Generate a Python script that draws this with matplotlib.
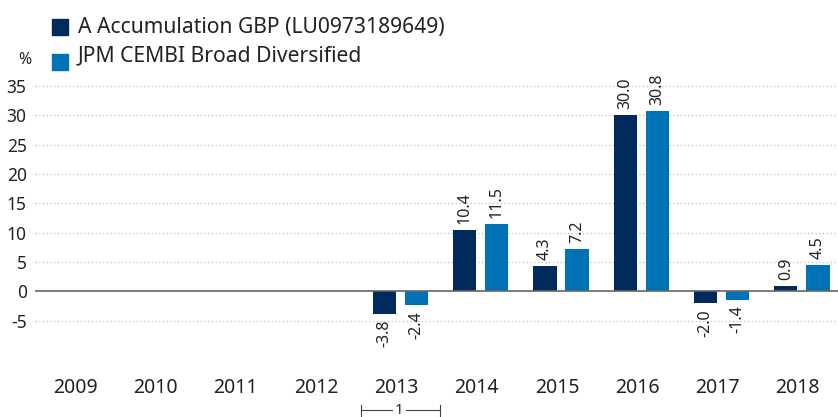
import numpy as np
import matplotlib.pyplot as plt

plt.rcParams['font.family'] = ['Noto Sans', 'DejaVu Sans']

years = ['2009', '2010', '2011', '2012', '2013', '2014', '2015', '2016', '2017', '2018']
fund = [None, None, None, None, -3.8, 10.4, 4.3, 30.0, -2.0, 0.9]
index = [None, None, None, None, -2.4, 11.5, 7.2, 30.8, -1.4, 4.5]
fund_name = 'A Accumulation GBP (LU0973189649)'
index_name = 'JPM CEMBI Broad Diversified'

dark = '#002a5c'
light = '#0073b7'
text_col = '#222222'

fig = plt.figure(figsize=(8.38, 4.17), dpi=100)
ax = fig.add_axes([35 / 838, 1 - 350 / 417, 803 / 838, 270 / 417])

x = np.arange(len(years))
w = 0.29
off = 0.2

for vals, dx, col in [(fund, -off, dark), (index, off, light)]:
    for i, v in enumerate(vals):
        if v is None:
            continue
        ax.bar(x[i] + dx + 0.05, v, width=w, color=col, zorder=3)
        if v >= 0:
            ax.text(x[i] + dx + 0.05, v + 1.0, f'{v:.1f}', rotation=90, ha='center', va='bottom',
                    fontsize=11.5, color=text_col)
        else:
            ax.text(x[i] + dx + 0.05, v - 1.0, f'{v:.1f}', rotation=90, ha='center', va='top',
                    fontsize=11.5, color=text_col)

ax.set_xlim(-0.5, len(years) - 0.5)
ax.set_ylim(-10, 36)
ax.set_yticks(range(-5, 40, 5))
ax.set_yticklabels([str(t) for t in range(-5, 40, 5)], fontsize=12.5, color=text_col)
ax.set_xticks(x)
ax.set_xticklabels(years, fontsize=14, color=text_col)
ax.tick_params(axis='x', length=0, pad=20)
ax.tick_params(axis='y', length=0, pad=6)

for t in range(-5, 40, 5):
    if t == 0:
        ax.axhline(0, color='#666666', lw=1.2, zorder=4)
    else:
        ax.axhline(t, color='#bbbbbb', lw=0.9, ls=(0, (1, 2)), zorder=1)

for s in ax.spines.values():
    s.set_visible(False)

# footnote bracket under 2013
bx0, bx1 = 4 - 0.44, 4 + 0.54
by = -20.3
ax.plot([bx0, 4.0 - 0.06], [by, by], color='#444444', lw=0.8, clip_on=False)
ax.plot([4.0 + 0.12, bx1], [by, by], color='#444444', lw=0.8, clip_on=False)
ax.plot([bx0, bx0], [by - 0.9, by + 0.9], color='#444444', lw=0.8, clip_on=False)
ax.plot([bx1, bx1], [by - 0.9, by + 0.9], color='#444444', lw=0.8, clip_on=False)
ax.text(4.03, by, '1', ha='center', va='center', fontsize=11, color=text_col, clip_on=False)

# legend
fig.patches.append(plt.Rectangle((52 / 838, 1 - 35 / 417), 16 / 838, 16 / 417,
                                 transform=fig.transFigure, color=dark))
fig.patches.append(plt.Rectangle((52 / 838, 1 - 70 / 417), 16 / 838, 16 / 417,
                                 transform=fig.transFigure, color=light))
fig.text(78 / 838, 1 - 27 / 417, fund_name, fontsize=15.2, color=text_col, va='center')
fig.text(78 / 838, 1 - 56 / 417, index_name, fontsize=15.2, color=text_col, va='center')
fig.text(25 / 838, 1 - 60 / 417, '%', fontsize=11.5, color=text_col, ha='center', va='center')

fig.savefig('out.png', dpi=100)
